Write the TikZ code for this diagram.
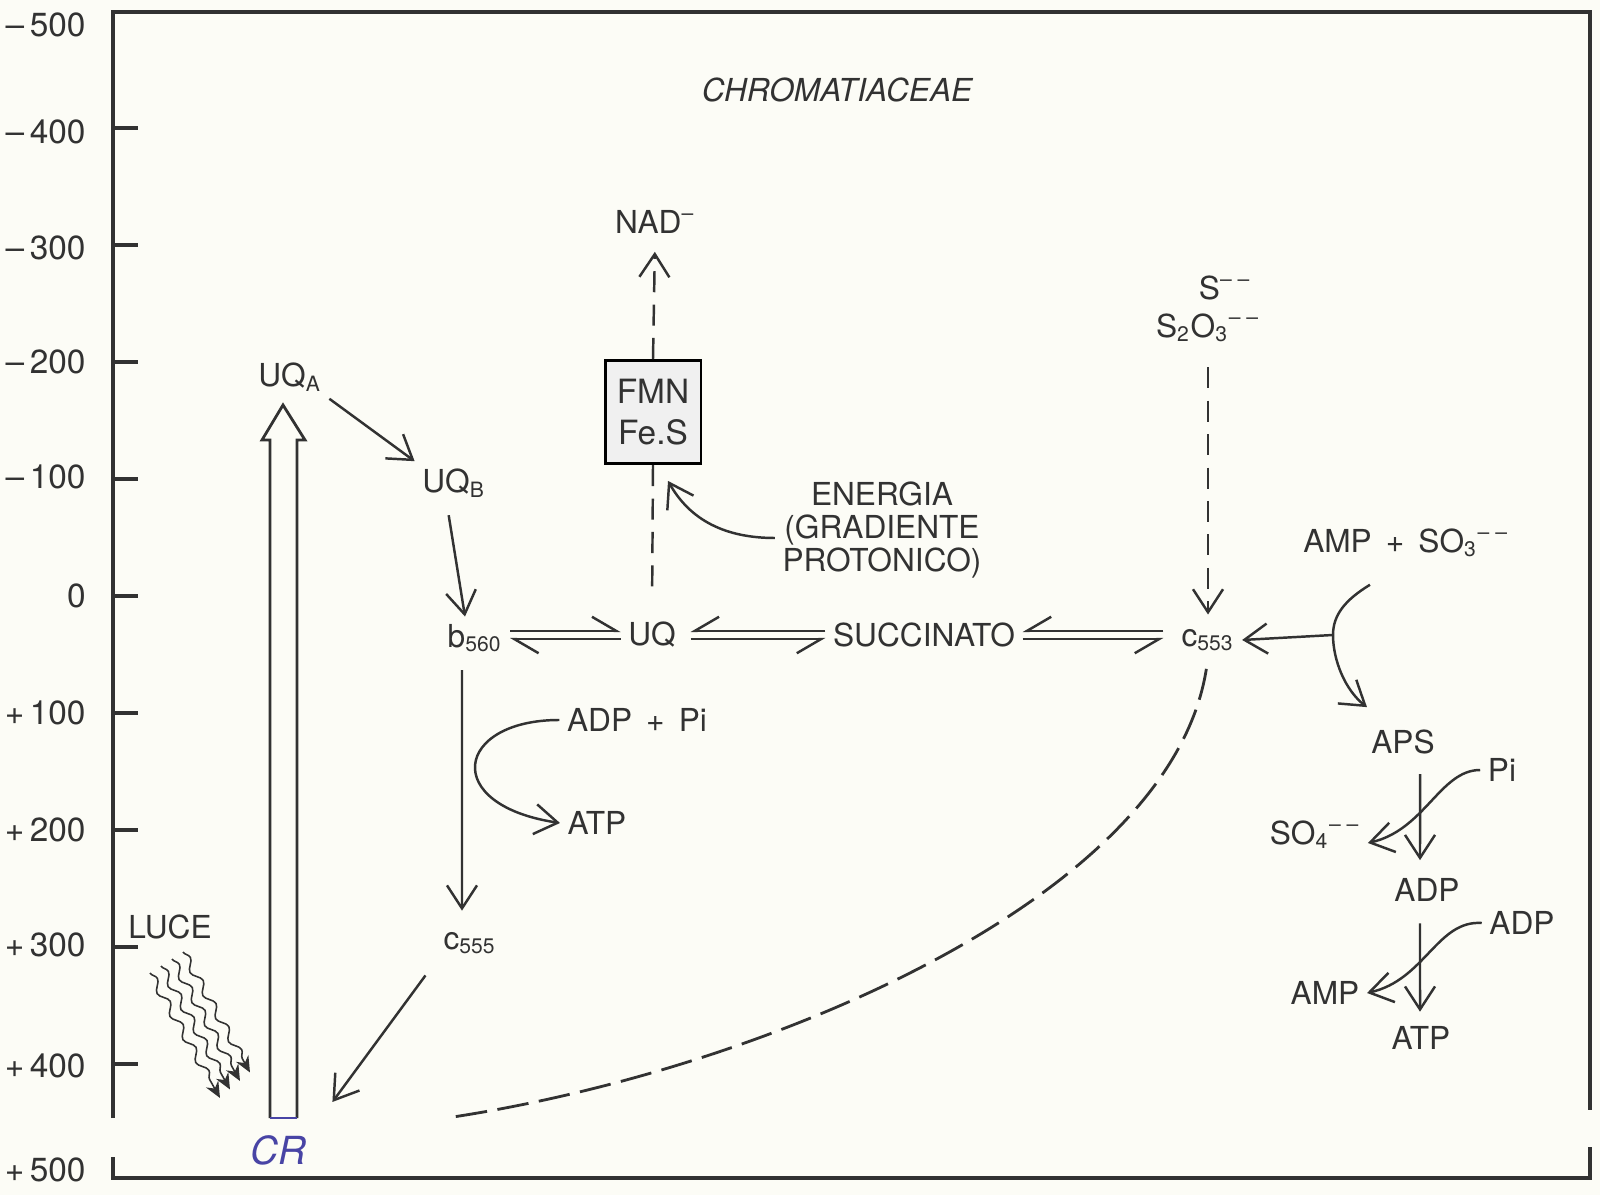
\documentclass[tikz,border=0pt]{standalone}
\usepackage{fontspec}
\setmainfont{TeX Gyre Heros}
\usetikzlibrary{arrows.meta,decorations.pathmorphing}
\definecolor{paper}{RGB}{252,252,246}
\definecolor{ink}{RGB}{50,50,50}
\definecolor{crblue}{RGB}{72,68,165}

\begin{document}
\begin{tikzpicture}
[x=0.01cm, y=-0.01cm, font=\fontsize{9}{10}\selectfont, text=ink]

\tikzstyle{lab}=[inner sep=2pt]
\tikzstyle{frame}=[line width=0.9pt, ink]
\tikzstyle{flow}=[line width=0.7pt, ink, -{Straight Barb[length=2.3mm,width=3mm]}]
\tikzstyle{dflow}=[flow, dash pattern=on 6pt off 3.5pt]
\tikzstyle{fwd}=[line width=0.7pt, ink, -{Straight Barb[harpoon,length=2.4mm,width=2.8mm]}]
\tikzstyle{bwd}=[line width=0.7pt, ink, -{Straight Barb[harpoon,swap,length=2.4mm,width=2.8mm]}]
\tikzstyle{ray}=[line width=0.45pt, ink, decorate, decoration={snake, amplitude=1.1pt, segment length=7.5pt, post length=1.5mm}, -{Stealth[length=1.6mm,width=1.4mm]}]

\useasboundingbox[fill=paper] (0,0) rectangle (1600,1195);

\draw[frame] (113,1118) -- (113,12) -- (1590,12) -- (1590,1110);
\draw[frame] (113,1157) -- (113,1178) -- (1590,1178) -- (1590,1147);
\foreach \v in {-400,-300,...,400}
  \draw[frame] (113,{596+1.17*\v}) -- (138,{596+1.17*\v});
\foreach \t/\y in {–\,500/25, –\,400/132, –\,300/248, –\,200/362, –\,100/477, 0/596, +\,100/713, +\,200/830, +\,300/945, +\,400/1066, +\,500/1170}
  \node[anchor=east, font=\fontsize{9.5}{10}\selectfont] at (98,\y) {\t};

\node[lab]	(title)	at (837,90)	{\itshape CHROMATIACEAE};
\node[lab]	(UQA)	at (290,377)	{UQ\textsubscript{A}};
\node[lab]	(UQB)	at (454,483)	{UQ\textsubscript{B}};
\node[lab]	(b560)	at (475,638)	{b\textsubscript{560}};
\node[lab]	(UQ)	at (652,635)	{UQ};
\node[lab]	(SUCC)	at (924,635)	{SUCCINATO};
\node[lab]	(c553)	at (1208,640)	{c\textsubscript{553}};
\node[lab]	(c555)	at (470,943)	{c\textsubscript{555}};
\node[lab]	(NAD)	at (655,222)	{NAD\textsuperscript{–}};
\node[draw, line width=0.8pt, fill=black!6, align=center, minimum width=0.95cm, minimum height=1.03cm, font=\fontsize{9.5}{11.5}\selectfont]
		(FMN)	at (653,412)	{FMN\\Fe.S};
\node[lab, align=center, font=\fontsize{9}{9.4}\selectfont]
		(ENERGIA)	at (882,530)	{ENERGIA\\(GRADIENTE\\PROTONICO)};
\node[lab]	(ADPPi)	at (637,720)	{ADP \,+\, Pi};
\node[lab]	(ATP)	at (597,823)	{ATP};
\node[lab]	(Sion)	at (1225,288)	{S\textsuperscript{– –}};
\node[lab]	(thio)	at (1208,328)	{S\textsubscript{2}O\textsubscript{3}\textsuperscript{– –}};
\node[lab]	(AMPSO3)	at (1406,543)	{AMP \,+\, SO\textsubscript{3}\textsuperscript{– –}};
\node[lab]	(APS)	at (1403,742)	{APS};
\node[lab]	(Pi)	at (1502,770)	{Pi};
\node[lab]	(SO4)	at (1315,835)	{SO\textsubscript{4}\textsuperscript{– –}};
\node[lab]	(ADP)	at (1427,890)	{ADP};
\node[lab]	(ADPb)	at (1522,923)	{ADP};
\node[lab]	(AMP)	at (1325,993)	{AMP};
\node[lab]	(ATPb)	at (1421,1038)	{ATP};
\node[lab]	(LUCE)	at (170,927)	{LUCE};
\node[lab, text=crblue, font=\fontsize{11}{12}\selectfont\slshape]
		(CR)	at (278,1150)	{CR};
\coordinate	(split)	at (1333,635);
\coordinate	(dend)	at (453,1117);

\draw[line width=0.8pt, ink] (270,1118) -- (270,440) -- (262,440) -- (283,405) -- (305,440) -- (297,440) -- (297,1118);
\draw[line width=0.8pt, crblue] (270,1118) -- (297,1118);
\foreach \i in {0,...,3}
  \draw[ray] ({150+11*\i},{973-7*\i}) -- ({220+10*\i},{1098-8.5*\i});

\draw[flow] (UQA.south east) -- (UQB.north west);
\draw[flow, shorten <=3pt] ([xshift=-0.07cm]UQB.south) -- ([xshift=-0.1cm]b560.north);
\draw[fwd] ([yshift=1.2pt]b560.east |- UQ.west) -- ([yshift=1.2pt]UQ.west);
\draw[fwd] ([yshift=-1.2pt]UQ.west) -- ([yshift=-1.2pt]b560.east |- UQ.west);
\draw[bwd, shorten >=2pt] ([yshift=1.2pt]SUCC.west) -- ([yshift=1.2pt]UQ.east);
\draw[bwd, shorten <=2pt] ([yshift=-1.2pt]UQ.east) -- ([yshift=-1.2pt]SUCC.west);
\draw[bwd, shorten <=3pt] ([yshift=1.2pt]c553.west |- SUCC.east) -- ([yshift=1.2pt]SUCC.east);
\draw[bwd, shorten >=3pt] ([yshift=-1.2pt]SUCC.east) -- ([yshift=-1.2pt]c553.west |- SUCC.east);
\draw[flow, shorten <=3pt, shorten >=4pt] ([xshift=-0.13cm]b560.south) -- ([xshift=-0.08cm]c555.north);
\draw[flow, shorten <=5pt, shorten >=9pt] (c555.south west) -- (CR.north east);
\draw[flow] (ADPPi.west) .. controls (455,720) and (440,805) .. (ATP.west);

\draw[dflow, shorten >=3pt] (FMN.north) -- (NAD.south);
\draw[line width=0.7pt, ink, dash pattern=on 6pt off 3.5pt, shorten <=8pt] (UQ.north) -- (FMN.south);
\draw[flow] ([yshift=-0.08cm]ENERGIA.west) .. controls (725,538) and (690,520) .. ([xshift=0.15cm,yshift=-0.16cm]FMN.south);

\draw[dflow, shorten <=5pt, shorten >=2pt] (thio.south -| c553.north) -- (c553.north);
\draw[line width=0.8pt, ink, dash pattern=on 9pt off 3pt, shorten <=3pt] (c553.south) .. controls (1170,900) and (760,1070) .. (dend);

\draw[flow] ([xshift=-0.36cm,yshift=-0.2cm]AMPSO3.south) .. controls (1345,600) and (1333,615) .. (split) .. controls (1333,660) and (1345,690) .. ([xshift=-0.36cm,yshift=0.15cm]APS.north);
\draw[flow] (split) -- (c553.east);
\draw[flow, shorten <=3.5pt, shorten >=3pt] ([xshift=0.17cm]APS.south) -- ([xshift=-0.07cm]ADP.north);
\draw[flow] (Pi.west) .. controls (1440,770) and (1425,830) .. ([yshift=-0.08cm]SO4.east);
\draw[flow, shorten <=4pt, shorten >=2pt] ([xshift=-0.07cm]ADP.south) -- ([xshift=-0.01cm]ATPb.north);
\draw[flow] (ADPb.west) .. controls (1437,920) and (1425,980) .. (AMP.east);
\end{tikzpicture}
\end{document}
